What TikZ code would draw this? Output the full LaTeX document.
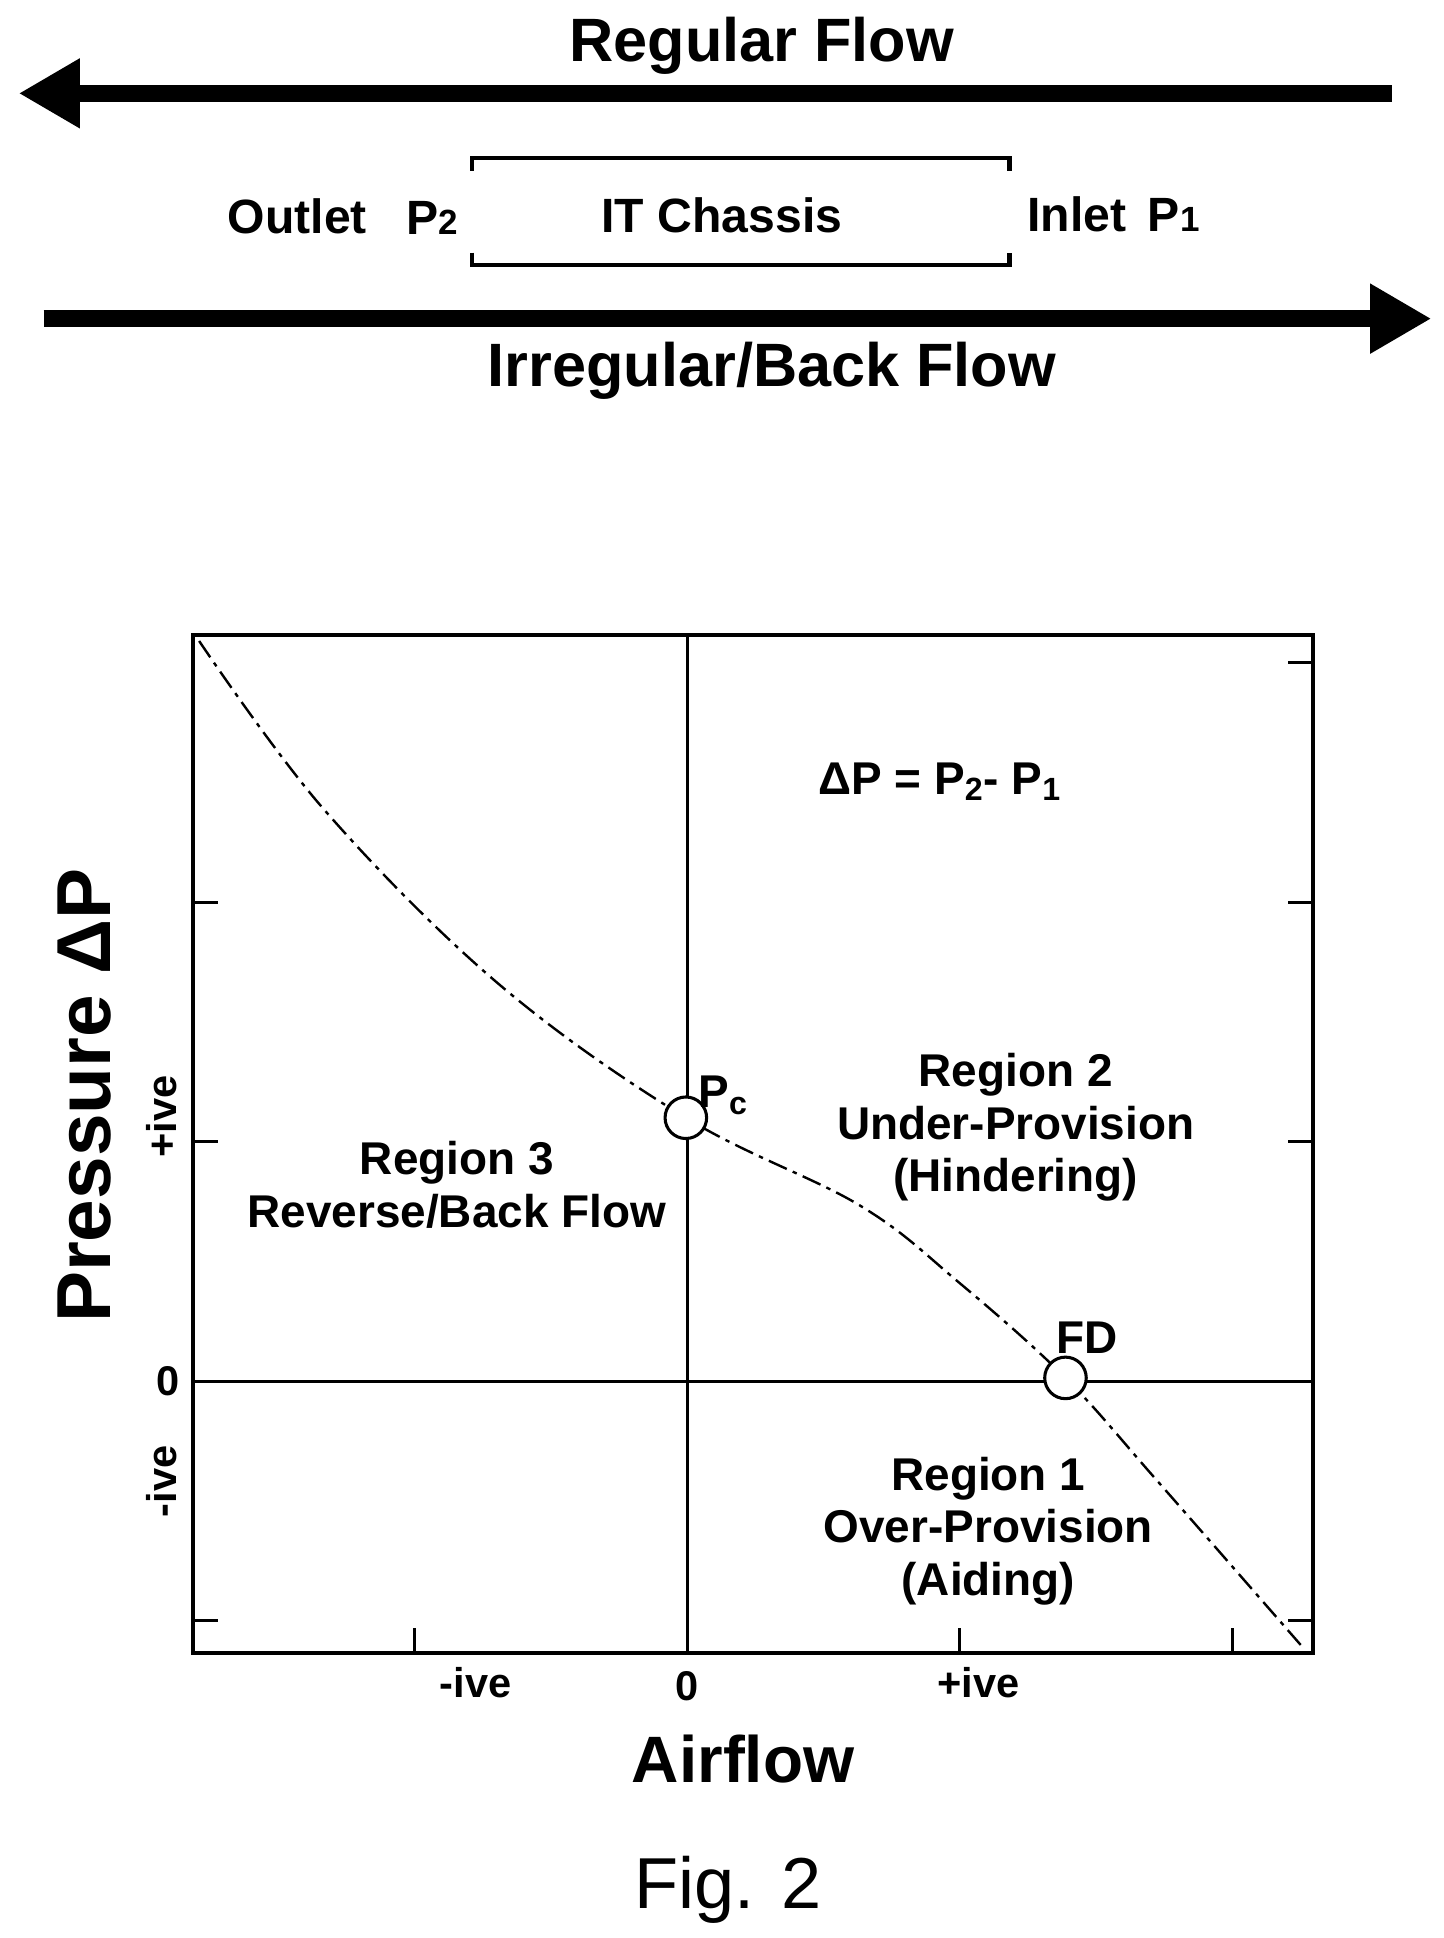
\documentclass[tikz,border=0pt]{standalone}
\usepackage{fontspec}
\setmainfont{Liberation Sans}
\usetikzlibrary{arrows.meta}
\begin{document}
\begin{tikzpicture}[x=0.02cm,y=-0.02cm,
 lbl/.style={font=\fontsize{21}{24}\selectfont\bfseries, align=center},
 top/.style={font=\fontsize{22}{25}\selectfont\bfseries},
 big/.style={font=\fontsize{28}{32}\selectfont\bfseries},
 huge/.style={font=\fontsize{30}{34}\selectfont\bfseries},
 tick/.style={font=\fontsize{19}{22}\selectfont\bfseries},
 flow/.style={line width=7.5pt,-{Triangle[length=28pt,width=30pt]}},
 pt/.style={circle,draw,fill=white,line width=1.4pt,minimum size=19pt,inner sep=0pt}]
\useasboundingbox (0,0) rectangle (1160,1557);
% top
\node[big] (rf) at (612,37) {Regular Flow};
\coordinate (a1) at (1118,75); \coordinate (a2) at (15,75);
\draw[flow] (a1) -- (a2);
\coordinate (b1) at (35,256); \coordinate (b2) at (1150,256);
\draw[flow] (b1) -- (b2);
\node[big] (ir) at (620,298) {Irregular/Back Flow};
\draw[line width=2pt] (379,137) -- (379,127) -- (811,127) -- (811,137);
\draw[line width=2pt] (379,203) -- (379,213) -- (811,213) -- (811,203);
\node[top] (it) at (580,173) {IT Chassis};
\node[top] (out) at (239,174) {Outlet};
\node[top] (p2) at (347,175) {P\fontsize{16}{18}\selectfont 2};
\node[top] (inl) at (865,172) {Inlet};
\node[top] (p1) at (943,173) {P\fontsize{16}{18}\selectfont 1};
% plot
\draw[line width=1.6pt] (155,510) rectangle (1055,1328);
\draw[line width=1.4pt] (552,510) -- (552,1328);
\draw[line width=1.4pt] (155,1110) -- (1055,1110);
\foreach \y in {725,917,1302} \draw[line width=1.4pt] (155,\y) -- (175,\y);
\foreach \y in {532,725,917,1302} \draw[line width=1.4pt] (1055,\y) -- (1035,\y);
\foreach \x in {333,771,990} \draw[line width=1.4pt] (\x,1328) -- (\x,1308);
\draw[line width=1.1pt, dash pattern=on 9pt off 3pt on 2pt off 3pt]
 plot[smooth,tension=0.6] coordinates {(160,515) (260,650) (400,790) (551,898) (690,968) (770,1030) (856,1107) (930,1190) (1048,1325)};
\node[pt] (pc) at (551,898) {};
\node[pt] (fd) at (856,1107) {};
\node[lbl,anchor=south west] at (555,902) {P\textsubscript{c}};
\node[lbl] at (873,1075) {FD};
\node[lbl] at (755,628) {ΔP = P\textsubscript{2}- P\textsubscript{1}};
\node[lbl] at (367,952) {Region 3\\Reverse/Back Flow};
\node[lbl] at (816,906) {Region 2\\Under-Provision\\(Hindering)};
\node[lbl] at (794,1230) {Region 1\\Over-Provision\\(Aiding)};
\node[huge,rotate=90,font=\fontsize{35}{38}\selectfont\bfseries] at (68,880) {Pressure ΔP};
\node[tick,rotate=90] at (130,897) {+ive};
\node[tick] at (135,1110) {0};
\node[tick,rotate=90] at (130,1190) {-ive};
\node[tick] at (382,1352) {-ive};
\node[tick] at (552,1355) {0};
\node[tick] at (786,1352) {+ive};
\node[huge] at (597,1413) {Airflow};
\node[font=\fontsize{33}{36}\selectfont] at (585,1518) {Fig. 2};
\end{tikzpicture}
\end{document}
